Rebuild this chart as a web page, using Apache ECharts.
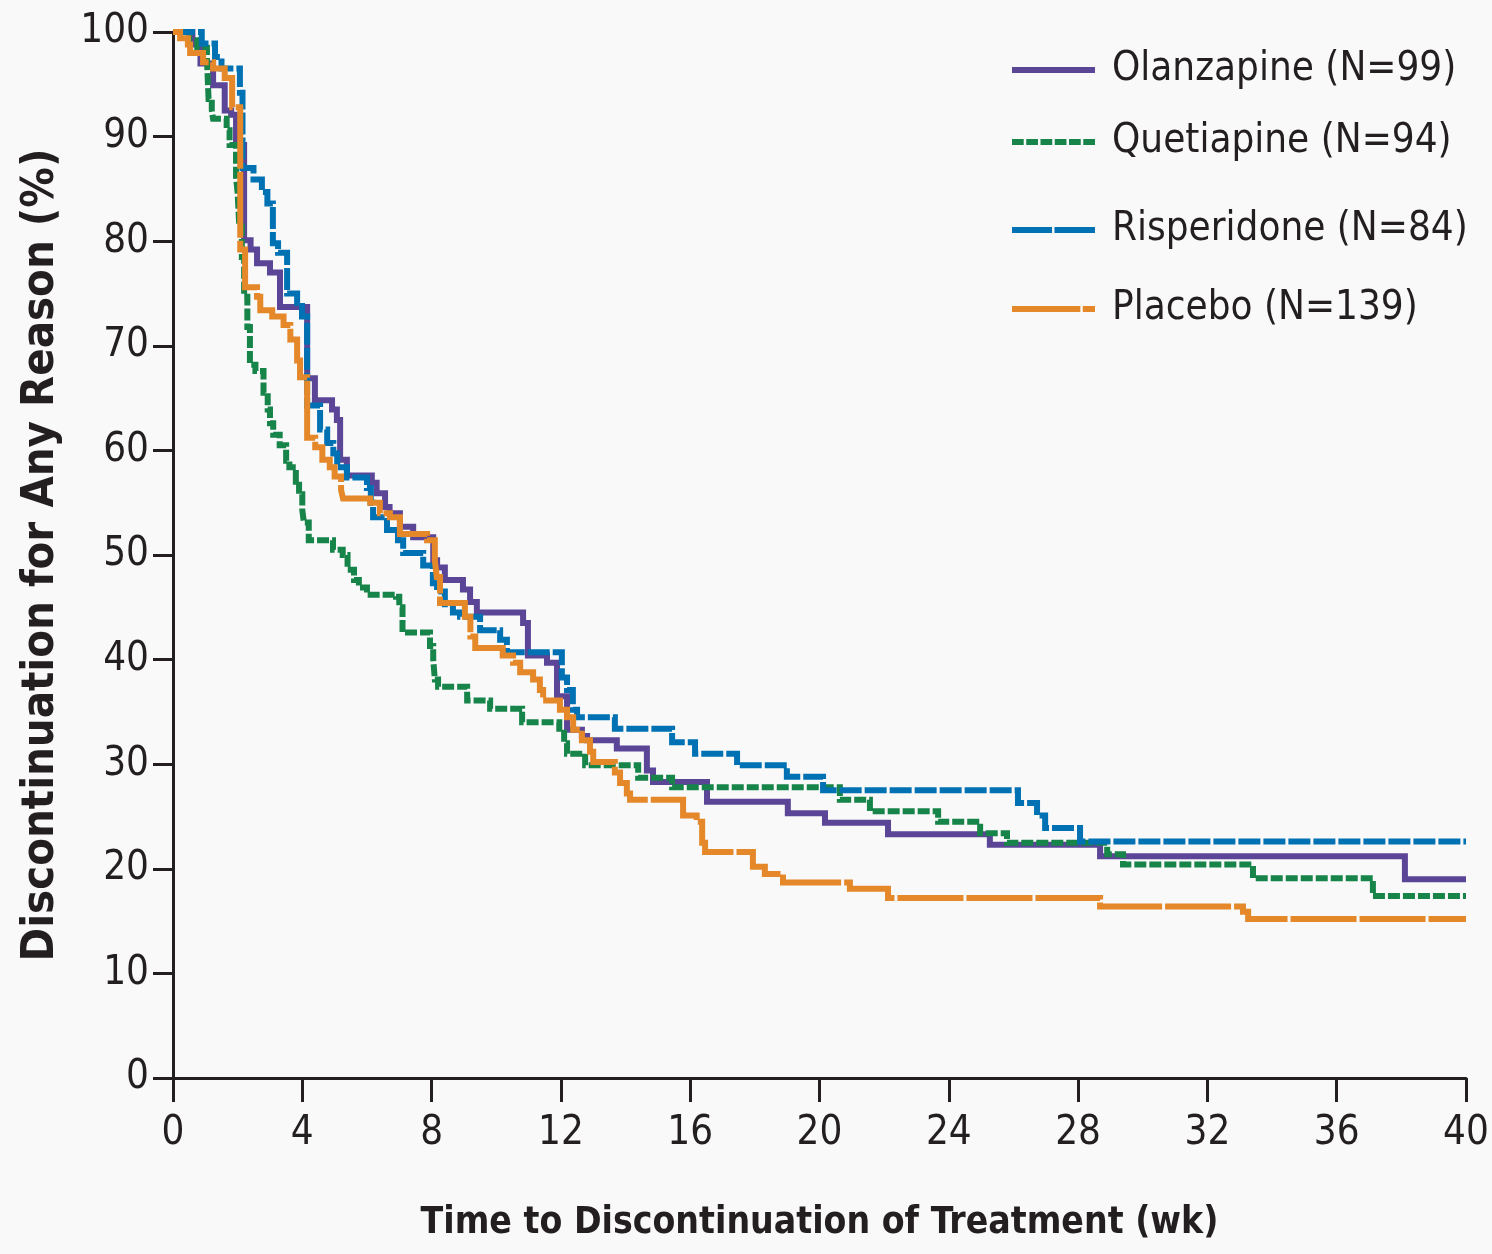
<!DOCTYPE html>
<html>
<head>
<meta charset="utf-8">
<script src="https://cdn.jsdelivr.net/npm/echarts@6/dist/echarts.min.js"></script>
<style>
html,body{margin:0;padding:0;background:#f9f9f9;}
#main{width:1492px;height:1254px;}
</style>
</head>
<body>
<div id="main"></div>
<script>
const xTicks = [0,4,8,12,16,20,24,28,32,36,40];
const yTicks = [0,10,20,30,40,50,60,70,80,90,100];
const seriesNames = ['Olanzapine (N=99)','Quetiapine (N=94)','Risperidone (N=84)','Placebo (N=139)'];

const olanzapine = [[0,100],[0.6,98.8],[0.85,97],[1.24,94.9],[1.6,92.5],[1.8,92.1],[1.95,89.2],[2.2,80.1],[2.4,79.2],[2.6,77.9],[3.0,77],[3.31,73.7],[4.15,66.9],[4.39,64.8],[4.92,63.9],[5.07,62.9],[5.17,59.1],[5.38,57.6],[6.15,56.9],[6.3,55.9],[6.56,54.6],[6.7,54],[7.02,52.7],[7.43,51.7],[8.05,49.5],[8.17,48.8],[8.41,47.6],[8.97,46.7],[9.19,45.5],[9.4,44.5],[10.83,43.5],[10.98,40.4],[11.57,39.7],[11.88,36.5],[12.19,33.3],[12.65,32.7],[12.81,32.3],[13.73,31.5],[14.66,29.4],[14.85,28.3],[16.52,26.4],[19.02,25.3],[20.17,24.4],[22.12,23.3],[25.27,22.3],[28.68,21.2],[38.11,19.0],[40,19.0]];

const quetiapine = [[0,100],[0.5,99.2],[0.75,98.5],[1.05,97.5],[1.1,93.6],[1.2,92.5],[1.24,91.7],[1.66,90.6],[1.75,89.2],[1.95,86.1],[2.0,84.6],[2.05,81.4],[2.13,78.5],[2.2,74.7],[2.3,71.8],[2.38,68.2],[2.55,67.6],[2.8,65.5],[2.93,63.9],[3.0,62.6],[3.1,61.5],[3.3,60.5],[3.5,59],[3.6,58.4],[3.8,57],[3.9,55.8],[4.0,54.3],[4.05,53.1],[4.2,51.4],[4.95,50.5],[5.25,50],[5.4,48.6],[5.6,47.6],[5.75,46.9],[6.0,46.2],[6.9,46],[7.0,45],[7.1,42.6],[7.95,41.3],[8.05,40],[8.1,38.1],[8.2,37.4],[9.1,36.1],[9.81,35.3],[10.8,34],[11.95,33],[12.1,32],[12.19,31],[12.75,29.9],[14.39,28.7],[15.44,27.8],[20.63,26.6],[21.56,25.5],[23.67,24.5],[24.97,23.4],[25.8,22.5],[28.9,21.4],[29.39,20.4],[33.41,19.1],[37.12,17.4],[40,17.4]];

const risperidone = [[0,100],[0.89,98.9],[1.3,97.6],[1.5,96.5],[2.07,94.2],[2.15,87],[2.49,85.9],[2.75,84.7],[2.92,83.6],[3.09,79.8],[3.25,78.9],[3.53,75],[3.84,74.1],[3.99,72.8],[4.15,64.3],[4.55,62],[4.77,60.7],[4.96,59.7],[5.08,58.4],[5.38,57.4],[6.0,56.4],[6.12,55],[6.19,53.6],[6.62,52.4],[6.96,51.4],[7.12,50.2],[7.74,49],[8.04,47.3],[8.17,46.5],[8.41,45.3],[8.66,44.5],[8.88,44.1],[9.5,42.8],[10.12,41.9],[10.33,40.7],[12.03,38.3],[12.19,37.1],[12.37,35.2],[12.5,34.5],[13.67,33.4],[15.44,32.1],[16.15,31],[17.45,29.9],[18.99,28.8],[20.11,27.5],[26.14,26.3],[26.73,25.1],[26.98,23.9],[28.06,22.6],[40,22.6]];

const placebo = [[0,100],[0.22,99.4],[0.46,98.8],[0.53,98],[0.93,97.1],[1.24,96.5],[1.6,95.6],[1.83,92.8],[2.08,79.2],[2.23,75.6],[2.6,74.7],[2.7,73.4],[3.07,72.8],[3.42,72],[3.63,70.6],[3.84,68.6],[3.93,67],[4.15,61.2],[4.4,60.3],[4.62,59.1],[4.85,58.4],[5.0,57.5],[5.2,56.2],[5.26,55.4],[6.1,55],[6.4,54],[6.71,53.6],[7.02,52],[7.86,51.4],[8.1,49.5],[8.16,47.9],[8.26,45.4],[9.03,44.1],[9.2,42.2],[9.35,41.1],[10.2,40.4],[10.52,39.7],[10.74,38.8],[11.14,38.1],[11.35,37.1],[11.45,36.1],[11.97,35.2],[12.19,34.5],[12.38,33.3],[12.65,32.3],[12.9,31.2],[13.0,30.2],[13.67,29.2],[13.83,28.2],[14.04,27.2],[14.14,26.6],[15.78,25.1],[16.2,24.5],[16.37,22.5],[16.46,21.6],[17.94,20.2],[18.31,19.5],[18.87,18.7],[20.94,18.1],[22.12,17.2],[28.68,16.4],[33.1,15.9],[33.26,15.2],[40,15.2]];

const FONT = "'DejaVu Sans Condensed', 'Liberation Sans Narrow', 'Noto Sans', sans-serif";
const INK = '#231f20';
const colors = ['#5b4597','#17844a','#0072b4','#e4882a'];
const dashes = ['solid',[12,3],[22,3],[66,3]];
const seriesData = [olanzapine, quetiapine, risperidone, placebo];
const legendTops = [50,122,210,289];

// legend glyphs: dash segments [start,end] within an 85-unit long line
function dashIcon(segs){
  return 'path://' + segs.map(s=>`M${s[0]},0L${s[1]},0L${s[1]},6L${s[0]},6Z`).join('');
}
const legendSegs = [
  [[0,85]],
  [[0,12],[14.6,26.6],[29.2,41.2],[43.8,55.8],[58.4,70.4],[73,85]],
  [[0,41],[43.5,85]],
  [[0,70],[72.5,85]]
];

const chart = echarts.init(document.getElementById('main'), null, {renderer:'canvas'});

const series = seriesNames.map((n,i)=>({
  name:n, type:'line', step:'end', symbol:'none', showSymbol:false,
  data: seriesData[i],
  lineStyle:{color:colors[i], width:6, type:dashes[i], cap:'butt', join:'miter'},
  itemStyle:{color:colors[i]},
  z: 2+i
}));

const legends = seriesNames.map((n,i)=>({
  show:true, data:[{name:n, icon:dashIcon(legendSegs[i])}], left:1012, top:legendTops[i], orient:'vertical',
  padding:0, itemWidth:83, itemHeight:6,
  itemStyle:{color:colors[i]},
  textStyle:{fontFamily:FONT, fontSize:40, color:INK, padding:[0,0,0,12]},
  selectedMode:false
}));

chart.setOption({
  backgroundColor:'#f9f9f9',
  animation:false,
  grid:{left:173, right:26, top:32, bottom:176, containLabel:false},
  legend: legends,
  xAxis:{
    type:'value', min:0, max:40, interval:4,
    name:'Time to Discontinuation of Treatment (wk)',
    nameLocation:'middle', nameGap:127,
    nameTextStyle:{fontFamily:FONT, fontSize:37, fontWeight:'bold', color:INK},
    axisLine:{show:true, lineStyle:{color:INK, width:3}},
    axisTick:{show:true, length:24, lineStyle:{color:INK, width:3}},
    axisLabel:{fontFamily:FONT, fontSize:40, color:INK, margin:36,
      formatter:v=> xTicks.includes(v) ? String(v) : ''},
    splitLine:{show:false}
  },
  yAxis:{
    type:'value', min:0, max:100, interval:10,
    name:'Discontinuation for Any Reason (%)',
    nameLocation:'middle', nameGap:109, nameRotate:90,
    nameTextStyle:{fontFamily:FONT, fontSize:45, fontWeight:'bold', color:INK},
    axisLine:{show:true, lineStyle:{color:INK, width:3}},
    axisTick:{show:true, length:20, lineStyle:{color:INK, width:3}},
    axisLabel:{fontFamily:FONT, fontSize:40, color:INK, margin:24,
      formatter:v=> yTicks.includes(v) ? String(v) : ''},
    splitLine:{show:false}
  },
  series: series
});
</script>
</body>
</html>
